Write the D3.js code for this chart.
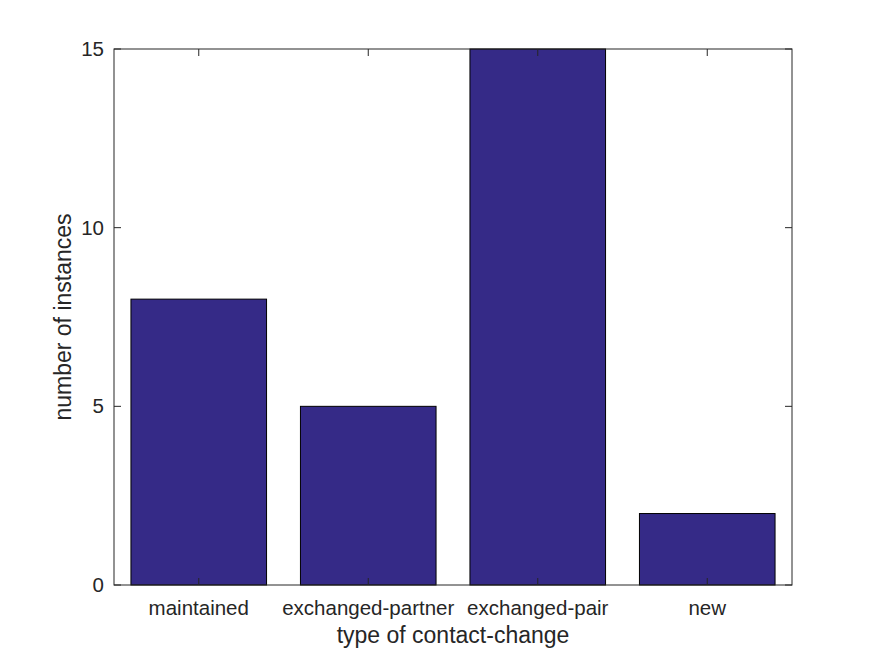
<!DOCTYPE html>
<html><head><meta charset="utf-8">
<script src="https://cdn.jsdelivr.net/npm/d3@7"></script>
<style>body{margin:0;background:#fff}svg{display:block}</style>
</head><body>
<script>
const categories = ["maintained","exchanged-partner","exchanged-pair","new"];
const values = [8,5,15,2];
const yTicks = [0,5,10,15];
const xLabel = "type of contact-change";
const yLabel = "number of instances";

const W=875,H=656;
const m={left:114,right:875-792,top:49,bottom:656-585};
const iw=W-m.left-m.right, ih=H-m.top-m.bottom;
const svg=d3.select("body").append("svg").attr("width",W).attr("height",H);
const font="Liberation Sans, Arial, Helvetica, sans-serif";
const col="#262626";

const x=d3.scaleBand().domain(categories).range([0,iw]).paddingInner(0.2).paddingOuter(0.1);
const y=d3.scaleLinear().domain([0,15]).range([ih,0]);
const g=svg.append("g").attr("transform",`translate(${m.left},${m.top})`);

g.selectAll("rect.bar").data(values).join("rect").attr("class","bar")
 .attr("x",(d,i)=>x(categories[i])).attr("width",x.bandwidth())
 .attr("y",d=>y(d)).attr("height",d=>y(0)-y(d))
 .attr("fill","#352a87").attr("stroke","#000").attr("stroke-width",1);

const tl=7;
const ax=d3.axisBottom(x).tickSize(0).tickPadding(0);
const xa=g.append("g").attr("transform",`translate(0,${ih})`).call(ax);
xa.select(".domain").remove();
xa.selectAll("text").attr("font-family",font).attr("font-size",20.5).attr("fill",col).attr("dy",null).attr("y",30);
categories.forEach(c=>{
  const cx=x(c)+x.bandwidth()/2;
  g.append("line").attr("x1",cx).attr("x2",cx).attr("y1",ih).attr("y2",ih-tl).attr("stroke",col);
  g.append("line").attr("x1",cx).attr("x2",cx).attr("y1",0).attr("y2",tl).attr("stroke",col);
});
const ay=d3.axisLeft(y).tickValues(yTicks).tickSize(0).tickPadding(10);
const ya=g.append("g").call(ay);
ya.select(".domain").remove();
ya.selectAll("text").attr("font-family",font).attr("font-size",20.5).attr("fill",col);
yTicks.forEach(t=>{
  g.append("line").attr("x1",0).attr("x2",tl).attr("y1",y(t)).attr("y2",y(t)).attr("stroke",col);
  g.append("line").attr("x1",iw).attr("x2",iw-tl).attr("y1",y(t)).attr("y2",y(t)).attr("stroke",col);
});
g.append("rect").attr("x",0).attr("y",0).attr("width",iw).attr("height",ih)
 .attr("fill","none").attr("stroke",col).attr("stroke-width",1);

svg.append("text").attr("x",m.left+iw/2).attr("y",643).attr("text-anchor","middle")
 .attr("font-family",font).attr("font-size",23).attr("fill",col).text(xLabel);
svg.append("text").attr("transform",`translate(71,${m.top+ih/2}) rotate(-90)`).attr("text-anchor","middle")
 .attr("font-family",font).attr("font-size",23).attr("fill",col).text(yLabel);
</script>
</body></html>
